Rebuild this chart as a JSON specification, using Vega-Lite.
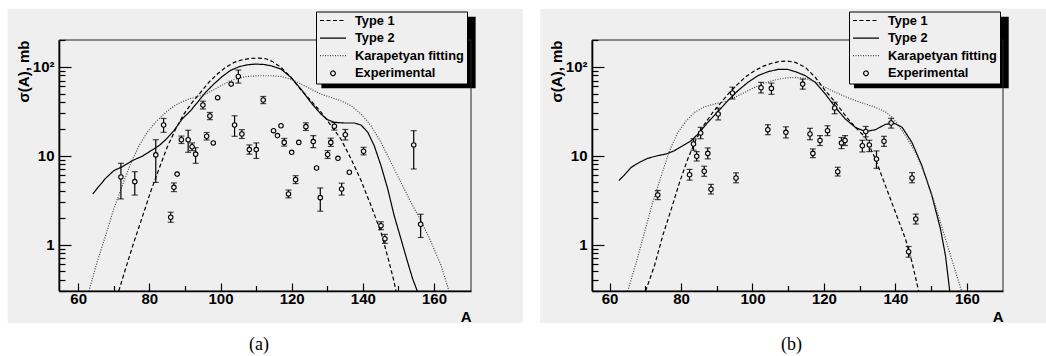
{
  "$schema": "https://vega.github.io/schema/vega-lite/v6.json",
  "background": "white",
  "padding": {"left": 7, "top": 8, "right": 0, "bottom": 0},
  "spacing": 17,
  "config": {
    "view": {"stroke": null},
    "font": "Liberation Sans"
  },
  "resolve": {
    "scale": {"x": "independent", "y": "independent", "strokeDash": "independent"},
    "legend": {"strokeDash": "independent"}
  },
  "datasets": {
    "curves_a": [
      {"A": 71.4, "v": 0.3, "series": "Type 1"}, {"A": 73.3, "v": 0.533, "series": "Type 1"}, {"A": 75.65, "v": 1.062, "series": "Type 1"}, {"A": 78.0, "v": 2.028, "series": "Type 1"}, {"A": 80.3, "v": 3.873, "series": "Type 1"}, {"A": 82.7, "v": 7.08, "series": "Type 1"}, {"A": 85.0, "v": 12.42, "series": "Type 1"}, {"A": 87.4, "v": 19.95, "series": "Type 1"}, {"A": 89.7, "v": 29.38, "series": "Type 1"}, {"A": 92.05, "v": 39.72, "series": "Type 1"}, {"A": 94.4, "v": 51.52, "series": "Type 1"}, {"A": 96.7, "v": 66.68, "series": "Type 1"}, {"A": 99.1, "v": 82.79, "series": "Type 1"}, {"A": 101.4, "v": 98.4, "series": "Type 1"}, {"A": 103.8, "v": 111.9, "series": "Type 1"}, {"A": 106.1, "v": 119.9, "series": "Type 1"}, {"A": 108.5, "v": 124.2, "series": "Type 1"}, {"A": 110.8, "v": 125.0, "series": "Type 1"}, {"A": 112.8, "v": 123, "series": "Type 1"}, {"A": 114.5, "v": 115, "series": "Type 1"}, {"A": 117.0, "v": 98.4, "series": "Type 1"}, {"A": 119.8, "v": 75.9, "series": "Type 1"}, {"A": 122.6, "v": 55, "series": "Type 1"}, {"A": 125.4, "v": 41.5, "series": "Type 1"}, {"A": 128.2, "v": 31, "series": "Type 1"}, {"A": 131.0, "v": 22, "series": "Type 1"}, {"A": 133.8, "v": 15.4, "series": "Type 1"}, {"A": 136.7, "v": 9.18, "series": "Type 1"}, {"A": 139.5, "v": 5.24, "series": "Type 1"}, {"A": 142.3, "v": 2.74, "series": "Type 1"}, {"A": 145.1, "v": 1.377, "series": "Type 1"}, {"A": 147.4, "v": 0.632, "series": "Type 1"}, {"A": 148.8, "v": 0.378, "series": "Type 1"}, {"A": 149.3, "v": 0.3, "series": "Type 1"},
      {"A": 64.1, "v": 3.71, "series": "Type 2"}, {"A": 65.6, "v": 4.41, "series": "Type 2"}, {"A": 67.7, "v": 5.56, "series": "Type 2"}, {"A": 70.0, "v": 6.78, "series": "Type 2"}, {"A": 72.4, "v": 7.52, "series": "Type 2"}, {"A": 75.2, "v": 8.79, "series": "Type 2"}, {"A": 78.0, "v": 9.84, "series": "Type 2"}, {"A": 80.8, "v": 11.59, "series": "Type 2"}, {"A": 82.7, "v": 12.94, "series": "Type 2"}, {"A": 84.6, "v": 15.14, "series": "Type 2"}, {"A": 86.9, "v": 19.1, "series": "Type 2"}, {"A": 89.2, "v": 25.82, "series": "Type 2"}, {"A": 91.6, "v": 32.06, "series": "Type 2"}, {"A": 93.9, "v": 41.5, "series": "Type 2"}, {"A": 95.8, "v": 51.52, "series": "Type 2"}, {"A": 98.1, "v": 63.83, "series": "Type 2"}, {"A": 100.5, "v": 77.8, "series": "Type 2"}, {"A": 102.8, "v": 91.0, "series": "Type 2"}, {"A": 105.2, "v": 100, "series": "Type 2"}, {"A": 107.5, "v": 105.2, "series": "Type 2"}, {"A": 109.9, "v": 107.2, "series": "Type 2"}, {"A": 112.2, "v": 106, "series": "Type 2"}, {"A": 114.2, "v": 102.6, "series": "Type 2"}, {"A": 117.0, "v": 94.2, "series": "Type 2"}, {"A": 119.8, "v": 75.9, "series": "Type 2"}, {"A": 122.6, "v": 56.1, "series": "Type 2"}, {"A": 125.4, "v": 39.7, "series": "Type 2"}, {"A": 128.2, "v": 29.4, "series": "Type 2"}, {"A": 130.1, "v": 25.35, "series": "Type 2"}, {"A": 132.0, "v": 23.7, "series": "Type 2"}, {"A": 134.8, "v": 23.3, "series": "Type 2"}, {"A": 137.6, "v": 23.3, "series": "Type 2"}, {"A": 139.5, "v": 22.1, "series": "Type 2"}, {"A": 141.4, "v": 18.3, "series": "Type 2"}, {"A": 143.2, "v": 12.94, "series": "Type 2"}, {"A": 145.1, "v": 7.73, "series": "Type 2"}, {"A": 147.0, "v": 4.22, "series": "Type 2"}, {"A": 148.8, "v": 2.12, "series": "Type 2"}, {"A": 150.7, "v": 1.16, "series": "Type 2"}, {"A": 152.6, "v": 0.632, "series": "Type 2"}, {"A": 154.0, "v": 0.411, "series": "Type 2"}, {"A": 155.3, "v": 0.3, "series": "Type 2"},
      {"A": 63.0, "v": 0.3, "series": "Karapetyan fitting"}, {"A": 65.3, "v": 0.632, "series": "Karapetyan fitting"}, {"A": 67.7, "v": 1.262, "series": "Karapetyan fitting"}, {"A": 70.0, "v": 2.518, "series": "Karapetyan fitting"}, {"A": 72.4, "v": 4.603, "series": "Karapetyan fitting"}, {"A": 74.7, "v": 8.054, "series": "Karapetyan fitting"}, {"A": 77.1, "v": 12.94, "series": "Karapetyan fitting"}, {"A": 79.4, "v": 18.28, "series": "Karapetyan fitting"}, {"A": 81.7, "v": 23.71, "series": "Karapetyan fitting"}, {"A": 84.1, "v": 29.38, "series": "Karapetyan fitting"}, {"A": 86.4, "v": 34.91, "series": "Karapetyan fitting"}, {"A": 88.8, "v": 39.72, "series": "Karapetyan fitting"}, {"A": 91.1, "v": 43.35, "series": "Karapetyan fitting"}, {"A": 93.5, "v": 46.03, "series": "Karapetyan fitting"}, {"A": 95.8, "v": 49.32, "series": "Karapetyan fitting"}, {"A": 98.1, "v": 55.21, "series": "Karapetyan fitting"}, {"A": 100.5, "v": 62.23, "series": "Karapetyan fitting"}, {"A": 102.8, "v": 69.66, "series": "Karapetyan fitting"}, {"A": 105.2, "v": 74.64, "series": "Karapetyan fitting"}, {"A": 107.5, "v": 77.8, "series": "Karapetyan fitting"}, {"A": 110.8, "v": 79.25, "series": "Karapetyan fitting"}, {"A": 114.2, "v": 79.25, "series": "Karapetyan fitting"}, {"A": 117.0, "v": 77.8, "series": "Karapetyan fitting"}, {"A": 119.8, "v": 72.61, "series": "Karapetyan fitting"}, {"A": 122.6, "v": 63.83, "series": "Karapetyan fitting"}, {"A": 125.4, "v": 56.1, "series": "Karapetyan fitting"}, {"A": 128.2, "v": 49.32, "series": "Karapetyan fitting"}, {"A": 131.0, "v": 45.19, "series": "Karapetyan fitting"}, {"A": 133.8, "v": 41.5, "series": "Karapetyan fitting"}, {"A": 136.7, "v": 36.48, "series": "Karapetyan fitting"}, {"A": 139.5, "v": 29.38, "series": "Karapetyan fitting"}, {"A": 142.3, "v": 21.73, "series": "Karapetyan fitting"}, {"A": 145.1, "v": 14.13, "series": "Karapetyan fitting"}, {"A": 147.9, "v": 8.41, "series": "Karapetyan fitting"}, {"A": 150.7, "v": 5.01, "series": "Karapetyan fitting"}, {"A": 153.5, "v": 2.99, "series": "Karapetyan fitting"}, {"A": 156.3, "v": 1.862, "series": "Karapetyan fitting"}, {"A": 159.2, "v": 1.062, "series": "Karapetyan fitting"}, {"A": 162.0, "v": 0.581, "series": "Karapetyan fitting"}, {"A": 164.2, "v": 0.3, "series": "Karapetyan fitting"}
    ],
    "curves_b": [
      {"A": 70.1, "v": 0.3, "series": "Type 1"}, {"A": 72.6, "v": 0.581, "series": "Type 1"}, {"A": 74.9, "v": 1.262, "series": "Type 1"}, {"A": 77.3, "v": 2.518, "series": "Type 1"}, {"A": 79.6, "v": 5.01, "series": "Type 1"}, {"A": 81.9, "v": 9.18, "series": "Type 1"}, {"A": 84.25, "v": 15.38, "series": "Type 1"}, {"A": 86.6, "v": 22.7, "series": "Type 1"}, {"A": 88.9, "v": 30.69, "series": "Type 1"}, {"A": 91.25, "v": 39.72, "series": "Type 1"}, {"A": 93.6, "v": 51.52, "series": "Type 1"}, {"A": 95.9, "v": 63.83, "series": "Type 1"}, {"A": 98.2, "v": 77.8, "series": "Type 1"}, {"A": 100.6, "v": 90.16, "series": "Type 1"}, {"A": 102.9, "v": 100.9, "series": "Type 1"}, {"A": 105.2, "v": 108.9, "series": "Type 1"}, {"A": 107.6, "v": 114.8, "series": "Type 1"}, {"A": 109.9, "v": 115.9, "series": "Type 1"}, {"A": 112.0, "v": 112, "series": "Type 1"}, {"A": 114.8, "v": 98.4, "series": "Type 1"}, {"A": 117.6, "v": 75.86, "series": "Type 1"}, {"A": 120.4, "v": 53.7, "series": "Type 1"}, {"A": 123.2, "v": 39.72, "series": "Type 1"}, {"A": 126.0, "v": 28.12, "series": "Type 1"}, {"A": 128.8, "v": 20.8, "series": "Type 1"}, {"A": 131.6, "v": 16.07, "series": "Type 1"}, {"A": 134.4, "v": 9.18, "series": "Type 1"}, {"A": 137.2, "v": 4.6, "series": "Type 1"}, {"A": 140.0, "v": 2.31, "series": "Type 1"}, {"A": 142.8, "v": 1.159, "series": "Type 1"}, {"A": 144.65, "v": 0.632, "series": "Type 1"}, {"A": 146.5, "v": 0.3, "series": "Type 1"},
      {"A": 62.6, "v": 5.24, "series": "Type 2"}, {"A": 64.2, "v": 6.07, "series": "Type 2"}, {"A": 66.1, "v": 7.4, "series": "Type 2"}, {"A": 68.4, "v": 8.41, "series": "Type 2"}, {"A": 70.7, "v": 9.33, "series": "Type 2"}, {"A": 73.5, "v": 10.0, "series": "Type 2"}, {"A": 75.9, "v": 10.45, "series": "Type 2"}, {"A": 78.2, "v": 11.38, "series": "Type 2"}, {"A": 80.5, "v": 12.94, "series": "Type 2"}, {"A": 82.9, "v": 14.76, "series": "Type 2"}, {"A": 85.2, "v": 18.28, "series": "Type 2"}, {"A": 87.5, "v": 23.71, "series": "Type 2"}, {"A": 90.3, "v": 31.19, "series": "Type 2"}, {"A": 93.1, "v": 41.5, "series": "Type 2"}, {"A": 95.9, "v": 53.7, "series": "Type 2"}, {"A": 98.7, "v": 66.68, "series": "Type 2"}, {"A": 101.5, "v": 79.25, "series": "Type 2"}, {"A": 104.3, "v": 87.9, "series": "Type 2"}, {"A": 107.1, "v": 93.33, "series": "Type 2"}, {"A": 109.9, "v": 93.33, "series": "Type 2"}, {"A": 112.0, "v": 88, "series": "Type 2"}, {"A": 114.8, "v": 79.25, "series": "Type 2"}, {"A": 117.6, "v": 66.68, "series": "Type 2"}, {"A": 120.4, "v": 49.32, "series": "Type 2"}, {"A": 123.2, "v": 34.91, "series": "Type 2"}, {"A": 126.0, "v": 25.82, "series": "Type 2"}, {"A": 128.8, "v": 20.8, "series": "Type 2"}, {"A": 131.6, "v": 18.62, "series": "Type 2"}, {"A": 134.4, "v": 19.59, "series": "Type 2"}, {"A": 137.2, "v": 22.49, "series": "Type 2"}, {"A": 139.5, "v": 23.28, "series": "Type 2"}, {"A": 141.9, "v": 20.8, "series": "Type 2"}, {"A": 144.6, "v": 14.13, "series": "Type 2"}, {"A": 147.4, "v": 7.73, "series": "Type 2"}, {"A": 150.2, "v": 3.56, "series": "Type 2"}, {"A": 152.6, "v": 1.5, "series": "Type 2"}, {"A": 154.0, "v": 0.752, "series": "Type 2"}, {"A": 155.2, "v": 0.3, "series": "Type 2"},
      {"A": 65.1, "v": 0.3, "series": "Karapetyan fitting"}, {"A": 67.5, "v": 0.632, "series": "Karapetyan fitting"}, {"A": 69.8, "v": 1.377, "series": "Karapetyan fitting"}, {"A": 72.1, "v": 2.992, "series": "Karapetyan fitting"}, {"A": 74.5, "v": 5.957, "series": "Karapetyan fitting"}, {"A": 76.8, "v": 11.38, "series": "Karapetyan fitting"}, {"A": 79.1, "v": 18.28, "series": "Karapetyan fitting"}, {"A": 81.5, "v": 24.72, "series": "Karapetyan fitting"}, {"A": 83.8, "v": 30.69, "series": "Karapetyan fitting"}, {"A": 86.6, "v": 35.56, "series": "Karapetyan fitting"}, {"A": 89.4, "v": 38.11, "series": "Karapetyan fitting"}, {"A": 92.2, "v": 40.46, "series": "Karapetyan fitting"}, {"A": 95.0, "v": 45.19, "series": "Karapetyan fitting"}, {"A": 97.8, "v": 51.52, "series": "Karapetyan fitting"}, {"A": 100.6, "v": 58.61, "series": "Karapetyan fitting"}, {"A": 103.4, "v": 65.46, "series": "Karapetyan fitting"}, {"A": 106.2, "v": 70.79, "series": "Karapetyan fitting"}, {"A": 109.0, "v": 74.64, "series": "Karapetyan fitting"}, {"A": 111.8, "v": 75.86, "series": "Karapetyan fitting"}, {"A": 114.8, "v": 73.96, "series": "Karapetyan fitting"}, {"A": 117.6, "v": 67.76, "series": "Karapetyan fitting"}, {"A": 120.4, "v": 58.61, "series": "Karapetyan fitting"}, {"A": 123.2, "v": 51.52, "series": "Karapetyan fitting"}, {"A": 126.0, "v": 46.03, "series": "Karapetyan fitting"}, {"A": 128.8, "v": 41.5, "series": "Karapetyan fitting"}, {"A": 131.6, "v": 38.11, "series": "Karapetyan fitting"}, {"A": 134.4, "v": 34.91, "series": "Karapetyan fitting"}, {"A": 137.2, "v": 31.19, "series": "Karapetyan fitting"}, {"A": 139.1, "v": 26.98, "series": "Karapetyan fitting"}, {"A": 140.9, "v": 21.73, "series": "Karapetyan fitting"}, {"A": 142.8, "v": 16.79, "series": "Karapetyan fitting"}, {"A": 145.6, "v": 10.89, "series": "Karapetyan fitting"}, {"A": 148.4, "v": 5.96, "series": "Karapetyan fitting"}, {"A": 151.2, "v": 2.74, "series": "Karapetyan fitting"}, {"A": 154.0, "v": 1.159, "series": "Karapetyan fitting"}, {"A": 156.3, "v": 0.581, "series": "Karapetyan fitting"}, {"A": 158.5, "v": 0.3, "series": "Karapetyan fitting"}
    ],
    "pts_a": [
      {"A": 72.0, "v": 5.76, "lo": 3.26, "hi": 8.2}, {"A": 75.9, "v": 5.1, "lo": 3.6, "hi": 6.6}, {"A": 81.8, "v": 10.2, "lo": 5.0, "hi": 15.1}, {"A": 84.0, "v": 22.1, "lo": 18.3, "hi": 26.2}, {"A": 86.0, "v": 2.03, "lo": 1.78, "hi": 2.31}, {"A": 86.9, "v": 4.4, "lo": 3.94, "hi": 4.93}, {"A": 87.8, "v": 6.2, "lo": null, "hi": null}, {"A": 89.0, "v": 15.1, "lo": 13.7, "hi": 16.6}, {"A": 90.9, "v": 15.1, "lo": 10.9, "hi": 19.3}, {"A": 92.0, "v": 12.6, "lo": 11.4, "hi": 13.9}, {"A": 93.0, "v": 10.4, "lo": 8.2, "hi": 12.3}, {"A": 95.05, "v": 37.1, "lo": 33.5, "hi": 41}, {"A": 96.1, "v": 16.5, "lo": 15, "hi": 18.2}, {"A": 97.0, "v": 27.9, "lo": 25.4, "hi": 30.6}, {"A": 97.96, "v": 13.9, "lo": null, "hi": null}, {"A": 99.2, "v": 44.9, "lo": null, "hi": null}, {"A": 103.0, "v": 63.8, "lo": null, "hi": null}, {"A": 103.95, "v": 22.1, "lo": 16.5, "hi": 28.1}, {"A": 105.0, "v": 77.8, "lo": 65.5, "hi": 91.8}, {"A": 106.0, "v": 17.5, "lo": 15.6, "hi": 19.6}, {"A": 108.1, "v": 11.7, "lo": 10.4, "hi": 13.2}, {"A": 110.05, "v": 11.7, "lo": 9.3, "hi": 13.9}, {"A": 112.0, "v": 42.2, "lo": 38.5, "hi": 46.3}, {"A": 114.9, "v": 19.1, "lo": null, "hi": null}, {"A": 116.0, "v": 16.8, "lo": null, "hi": null}, {"A": 117.0, "v": 21.7, "lo": null, "hi": null}, {"A": 117.9, "v": 14.1, "lo": 12.8, "hi": 15.6}, {"A": 119.1, "v": 3.71, "lo": 3.35, "hi": 4.1}, {"A": 120.0, "v": 10.9, "lo": null, "hi": null}, {"A": 121.1, "v": 5.37, "lo": 4.85, "hi": 5.95}, {"A": 122.0, "v": 14.1, "lo": null, "hi": null}, {"A": 124.0, "v": 21.2, "lo": 19.2, "hi": 23.4}, {"A": 126.07, "v": 14.4, "lo": 12.3, "hi": 16.8}, {"A": 127.0, "v": 7.26, "lo": null, "hi": null}, {"A": 128.04, "v": 3.37, "lo": 2.37, "hi": 4.33}, {"A": 130.1, "v": 10.3, "lo": 9.3, "hi": 11.4}, {"A": 131.0, "v": 14.1, "lo": 12.7, "hi": 15.7}, {"A": 132.0, "v": 21.4, "lo": 19.4, "hi": 23.6}, {"A": 133.0, "v": 9.33, "lo": null, "hi": null}, {"A": 134.04, "v": 4.22, "lo": 3.6, "hi": 4.9}, {"A": 135.07, "v": 17.2, "lo": 15, "hi": 19.7}, {"A": 136.2, "v": 6.5, "lo": null, "hi": null}, {"A": 140.2, "v": 11.2, "lo": 10.2, "hi": 12.4}, {"A": 145.1, "v": 1.63, "lo": 1.47, "hi": 1.8}, {"A": 146.2, "v": 1.16, "lo": 1.03, "hi": 1.3}, {"A": 154.3, "v": 13.2, "lo": 7.08, "hi": 19.1}, {"A": 156.25, "v": 1.69, "lo": 1.2, "hi": 2.19}
    ],
    "pts_b": [
      {"A": 73.5, "v": 3.61, "lo": 3.2, "hi": 4.05}, {"A": 82.4, "v": 6.1, "lo": 5.3, "hi": 7.0}, {"A": 83.5, "v": 13.5, "lo": 11.5, "hi": 15.5}, {"A": 84.4, "v": 9.84, "lo": 8.7, "hi": 11.1}, {"A": 85.5, "v": 18.0, "lo": 15.5, "hi": 20.8}, {"A": 86.5, "v": 6.67, "lo": 5.85, "hi": 7.6}, {"A": 87.5, "v": 10.6, "lo": 9.2, "hi": 12.2}, {"A": 88.4, "v": 4.19, "lo": 3.7, "hi": 4.75}, {"A": 90.4, "v": 29.4, "lo": 25.2, "hi": 34.2}, {"A": 94.4, "v": 50.6, "lo": 43.4, "hi": 58.9}, {"A": 95.4, "v": 5.61, "lo": 4.95, "hi": 6.4}, {"A": 102.4, "v": 58.1, "lo": 50.7, "hi": 66.7}, {"A": 104.3, "v": 19.6, "lo": 17.2, "hi": 22.3}, {"A": 105.3, "v": 57.1, "lo": 48.9, "hi": 65.5}, {"A": 109.35, "v": 18.3, "lo": 15.8, "hi": 21.1}, {"A": 114.05, "v": 63.8, "lo": 56, "hi": 72.6}, {"A": 116.1, "v": 17.5, "lo": 15.1, "hi": 20.3}, {"A": 116.9, "v": 10.6, "lo": 9.5, "hi": 11.9}, {"A": 118.9, "v": 14.8, "lo": 13, "hi": 16.8}, {"A": 121.0, "v": 19.1, "lo": 16.8, "hi": 21.7}, {"A": 123.0, "v": 34.4, "lo": 29.6, "hi": 39.9}, {"A": 123.85, "v": 6.6, "lo": 5.9, "hi": 7.4}, {"A": 124.9, "v": 13.9, "lo": 12, "hi": 16}, {"A": 125.9, "v": 14.8, "lo": 13, "hi": 16.8}, {"A": 130.75, "v": 12.9, "lo": 11, "hi": 14.9}, {"A": 131.7, "v": 18.7, "lo": 16.3, "hi": 21.3}, {"A": 132.7, "v": 13.2, "lo": 11.1, "hi": 14.9}, {"A": 134.7, "v": 9.18, "lo": 7.2, "hi": 11.3}, {"A": 136.8, "v": 14.5, "lo": 12.7, "hi": 16.5}, {"A": 138.8, "v": 23.3, "lo": 20.4, "hi": 26.3}, {"A": 143.7, "v": 0.83, "lo": 0.72, "hi": 0.95}, {"A": 144.65, "v": 5.61, "lo": 4.95, "hi": 6.45}, {"A": 145.7, "v": 1.94, "lo": 1.7, "hi": 2.2}
    ]
  },
  "hconcat": [
    {
      "width": 412,
      "height": 251,
      "title": {"text": "(a)", "orient": "bottom", "font": "Liberation Serif", "fontSize": 18, "fontWeight": "normal", "color": "black", "offset": 11, "dx": -6},
      "layer": [
        {
          "data": {"values": [{}]},
          "mark": {"type": "rect", "fill": "#efefef", "clip": false},
          "encoding": {
            "x": {"datum": 40.18, "type": "quantitative", "scale": {"domain": [54.6, 170.4], "nice": false, "zero": false}},
            "x2": {"datum": 185.0},
            "y": {"datum": 450, "type": "quantitative", "scale": {"type": "log", "domain": [0.3, 200], "nice": false}},
            "y2": {"datum": 0.131}
          }
        },
        {
          "data": {"values": [{}]},
          "mark": {"type": "rect", "fill": "black", "clip": false},
          "encoding": {
            "x": {"datum": 128.35, "type": "quantitative", "scale": {"domain": [54.6, 170.4], "nice": false, "zero": false}},
            "x2": {"datum": 171.7},
            "y": {"datum": 365.6, "type": "quantitative", "scale": {"type": "log", "domain": [0.3, 200], "nice": false}},
            "y2": {"datum": 57.2}
          }
        },
        {
          "data": {"values": [{}]},
          "mark": {"type": "rect", "fill": "transparent", "stroke": "#222", "strokeWidth": 1, "clip": false},
          "encoding": {
            "x": {"datum": 54.6, "type": "quantitative", "scale": {"domain": [54.6, 170.4], "nice": false, "zero": false}},
            "x2": {"datum": 170.4},
            "y": {"datum": 0.3, "type": "quantitative", "scale": {"type": "log", "domain": [0.3, 200], "nice": false}},
            "y2": {"datum": 200}
          }
        },
        {
          "data": {"name": "curves_a"},
          "mark": {"type": "line", "strokeWidth": 1.2, "clip": true},
          "encoding": {
            "x": {"field": "A", "type": "quantitative", "scale": {"domain": [54.6, 170.4], "nice": false, "zero": false},
              "axis": {"title": "A", "titleAnchor": "end", "titleFont": "Liberation Sans", "titleFontWeight": "bold", "titleFontSize": 15, "titleColor": "black", "titlePadding": 1,
                "values": [60, 65, 70, 75, 80, 85, 90, 95, 100, 105, 110, 115, 120, 125, 130, 135, 140, 145, 150, 155, 160, 165],
                "labelExpr": "datum.value % 20 == 0 ? datum.label : ''",
                "tickSize": {"condition": [{"test": "datum.value % 20 == 0", "value": -8}, {"test": "datum.value % 10 == 0", "value": -5.5}], "value": -3.5},
                "tickColor": "black", "tickWidth": 1.2, "domainColor": "black", "domainWidth": 1.6,
                "labelFont": "Liberation Sans", "labelFontWeight": "bold", "labelFontSize": 15, "labelColor": "black", "labelPadding": 8,
                "labelOverlap": false, "labelFlush": false, "labelBound": false, "grid": false, "zindex": 1}},
            "y": {"field": "v", "type": "quantitative", "scale": {"type": "log", "domain": [0.3, 200], "nice": false},
              "axis": {"title": "σ(A), mb", "titleAnchor": "end", "titleFont": "Liberation Sans", "titleFontWeight": "bold", "titleFontSize": 15, "titleColor": "black", "titlePadding": 1,
                "values": [0.3, 0.4, 0.5, 0.6, 0.7, 0.8, 0.9, 1, 2, 3, 4, 5, 6, 7, 8, 9, 10, 20, 30, 40, 50, 60, 70, 80, 90, 100, 200],
                "labelExpr": "datum.value == 100 ? '10²' : datum.value == 10 ? '10' : datum.value == 1 ? '1' : ''",
                "tickSize": {"condition": {"test": "datum.value == 1 || datum.value == 10 || datum.value == 100", "value": -12}, "value": -6},
                "tickColor": "black", "tickWidth": 1.2, "domainColor": "black", "domainWidth": 1.6,
                "labelFont": "Liberation Sans", "labelFontWeight": "bold", "labelFontSize": 15, "labelColor": "black", "labelPadding": 17,
                "labelOverlap": false, "labelFlush": false, "labelBound": false, "grid": false, "zindex": 1}},
            "strokeDash": {"field": "series", "type": "nominal",
              "scale": {"domain": ["Type 1", "Type 2", "Karapetyan fitting", "Experimental"], "range": [[4, 2.5], [1, 0], [1, 1.5], [1, 0]]},
              "legend": {"title": null, "orient": "none", "legendX": 257, "legendY": -28.5, "zindex": 2,
                "fillColor": "#efefef", "strokeColor": "black", "padding": 3,
                "symbolSize": 676, "symbolType": "stroke", "symbolStrokeWidth": 1.2, "symbolStrokeColor": "black",
                "clipHeight": 12, "rowPadding": 4.6,
                "labelFont": "Liberation Sans", "labelFontWeight": "bold", "labelFontSize": 12.8, "labelColor": "black", "labelOffset": 8, "labelLimit": 300,
                "encode": {"symbols": {"update": {
                  "shape": {"signal": "datum.value === 'Experimental' ? 'M-0.18,0A0.18,0.18,0,1,0,0.18,0A0.18,0.18,0,1,0,-0.18,0Z' : 'stroke'"},
                  "stroke": {"signal": "datum.value === 'Karapetyan fitting' ? '#444' : 'black'"},
                  "fill": {"value": "transparent"}
                }}}}},
            "stroke": {"condition": {"test": "datum.series === 'Karapetyan fitting'", "value": "#444"}, "value": "black"}
          }
        },
        {
          "data": {"name": "pts_a"},
          "mark": {"type": "rule", "color": "black", "strokeWidth": 1.2},
          "encoding": {
            "x": {"field": "A", "type": "quantitative", "scale": {"domain": [54.6, 170.4], "nice": false, "zero": false}},
            "y": {"field": "lo", "type": "quantitative", "scale": {"type": "log", "domain": [0.3, 200], "nice": false}},
            "y2": {"field": "hi"}
          }
        },
        {
          "data": {"name": "pts_a"},
          "mark": {"type": "tick", "orient": "horizontal", "size": 6, "thickness": 1.2, "color": "black"},
          "encoding": {
            "x": {"field": "A", "type": "quantitative", "scale": {"domain": [54.6, 170.4], "nice": false, "zero": false}},
            "y": {"field": "lo", "type": "quantitative", "scale": {"type": "log", "domain": [0.3, 200], "nice": false}}
          }
        },
        {
          "data": {"name": "pts_a"},
          "mark": {"type": "tick", "orient": "horizontal", "size": 6, "thickness": 1.2, "color": "black"},
          "encoding": {
            "x": {"field": "A", "type": "quantitative", "scale": {"domain": [54.6, 170.4], "nice": false, "zero": false}},
            "y": {"field": "hi", "type": "quantitative", "scale": {"type": "log", "domain": [0.3, 200], "nice": false}}
          }
        },
        {
          "data": {"name": "pts_a"},
          "mark": {"type": "point", "shape": "circle", "filled": true, "fill": "#efefef", "stroke": "black", "strokeWidth": 1.1, "size": 20, "opacity": 1},
          "encoding": {
            "x": {"field": "A", "type": "quantitative", "scale": {"domain": [54.6, 170.4], "nice": false, "zero": false}},
            "y": {"field": "v", "type": "quantitative", "scale": {"type": "log", "domain": [0.3, 200], "nice": false}}
          }
        }
      ]
    },
    {
      "width": 411,
      "height": 251,
      "title": {"text": "(b)", "orient": "bottom", "font": "Liberation Serif", "fontSize": 18, "fontWeight": "normal", "color": "black", "offset": 11, "dx": -6},
      "layer": [
        {
          "data": {"values": [{}]},
          "mark": {"type": "rect", "fill": "#efefef", "clip": false},
          "encoding": {
            "x": {"datum": 40.63, "type": "quantitative", "scale": {"domain": [55.1, 170.1], "nice": false, "zero": false}},
            "x2": {"datum": 182.5},
            "y": {"datum": 450, "type": "quantitative", "scale": {"type": "log", "domain": [0.3, 200], "nice": false}},
            "y2": {"datum": 0.131}
          }
        },
        {
          "data": {"values": [{}]},
          "mark": {"type": "rect", "fill": "black", "clip": false},
          "encoding": {
            "x": {"datum": 128.4, "type": "quantitative", "scale": {"domain": [55.1, 170.1], "nice": false, "zero": false}},
            "x2": {"datum": 171.7},
            "y": {"datum": 365.6, "type": "quantitative", "scale": {"type": "log", "domain": [0.3, 200], "nice": false}},
            "y2": {"datum": 57.2}
          }
        },
        {
          "data": {"values": [{}]},
          "mark": {"type": "rect", "fill": "transparent", "stroke": "#222", "strokeWidth": 1, "clip": false},
          "encoding": {
            "x": {"datum": 55.1, "type": "quantitative", "scale": {"domain": [55.1, 170.1], "nice": false, "zero": false}},
            "x2": {"datum": 170.1},
            "y": {"datum": 0.3, "type": "quantitative", "scale": {"type": "log", "domain": [0.3, 200], "nice": false}},
            "y2": {"datum": 200}
          }
        },
        {
          "data": {"name": "curves_b"},
          "mark": {"type": "line", "strokeWidth": 1.2, "clip": true},
          "encoding": {
            "x": {"field": "A", "type": "quantitative", "scale": {"domain": [55.1, 170.1], "nice": false, "zero": false},
              "axis": {"title": "A", "titleAnchor": "end", "titleFont": "Liberation Sans", "titleFontWeight": "bold", "titleFontSize": 15, "titleColor": "black", "titlePadding": 1,
                "values": [60, 65, 70, 75, 80, 85, 90, 95, 100, 105, 110, 115, 120, 125, 130, 135, 140, 145, 150, 155, 160, 165],
                "labelExpr": "datum.value % 20 == 0 ? datum.label : ''",
                "tickSize": {"condition": [{"test": "datum.value % 20 == 0", "value": -8}, {"test": "datum.value % 10 == 0", "value": -5.5}], "value": -3.5},
                "tickColor": "black", "tickWidth": 1.2, "domainColor": "black", "domainWidth": 1.6,
                "labelFont": "Liberation Sans", "labelFontWeight": "bold", "labelFontSize": 15, "labelColor": "black", "labelPadding": 8,
                "labelOverlap": false, "labelFlush": false, "labelBound": false, "grid": false, "zindex": 1}},
            "y": {"field": "v", "type": "quantitative", "scale": {"type": "log", "domain": [0.3, 200], "nice": false},
              "axis": {"title": "σ(A), mb", "titleAnchor": "end", "titleFont": "Liberation Sans", "titleFontWeight": "bold", "titleFontSize": 15, "titleColor": "black", "titlePadding": 1,
                "values": [0.3, 0.4, 0.5, 0.6, 0.7, 0.8, 0.9, 1, 2, 3, 4, 5, 6, 7, 8, 9, 10, 20, 30, 40, 50, 60, 70, 80, 90, 100, 200],
                "labelExpr": "datum.value == 100 ? '10²' : datum.value == 10 ? '10' : datum.value == 1 ? '1' : ''",
                "tickSize": {"condition": {"test": "datum.value == 1 || datum.value == 10 || datum.value == 100", "value": -12}, "value": -6},
                "tickColor": "black", "tickWidth": 1.2, "domainColor": "black", "domainWidth": 1.6,
                "labelFont": "Liberation Sans", "labelFontWeight": "bold", "labelFontSize": 15, "labelColor": "black", "labelPadding": 17,
                "labelOverlap": false, "labelFlush": false, "labelBound": false, "grid": false, "zindex": 1}},
            "strokeDash": {"field": "series", "type": "nominal",
              "scale": {"domain": ["Type 1", "Type 2", "Karapetyan fitting", "Experimental"], "range": [[4, 2.5], [1, 0], [1, 1.5], [1, 0]]},
              "legend": {"title": null, "orient": "none", "legendX": 257, "legendY": -28.5, "zindex": 2,
                "fillColor": "#efefef", "strokeColor": "black", "padding": 3,
                "symbolSize": 676, "symbolType": "stroke", "symbolStrokeWidth": 1.2, "symbolStrokeColor": "black",
                "clipHeight": 12, "rowPadding": 4.6,
                "labelFont": "Liberation Sans", "labelFontWeight": "bold", "labelFontSize": 12.8, "labelColor": "black", "labelOffset": 8, "labelLimit": 300,
                "encode": {"symbols": {"update": {
                  "shape": {"signal": "datum.value === 'Experimental' ? 'M-0.18,0A0.18,0.18,0,1,0,0.18,0A0.18,0.18,0,1,0,-0.18,0Z' : 'stroke'"},
                  "stroke": {"signal": "datum.value === 'Karapetyan fitting' ? '#444' : 'black'"},
                  "fill": {"value": "transparent"}
                }}}}},
            "stroke": {"condition": {"test": "datum.series === 'Karapetyan fitting'", "value": "#444"}, "value": "black"}
          }
        },
        {
          "data": {"name": "pts_b"},
          "mark": {"type": "rule", "color": "black", "strokeWidth": 1.2},
          "encoding": {
            "x": {"field": "A", "type": "quantitative", "scale": {"domain": [55.1, 170.1], "nice": false, "zero": false}},
            "y": {"field": "lo", "type": "quantitative", "scale": {"type": "log", "domain": [0.3, 200], "nice": false}},
            "y2": {"field": "hi"}
          }
        },
        {
          "data": {"name": "pts_b"},
          "mark": {"type": "tick", "orient": "horizontal", "size": 6, "thickness": 1.2, "color": "black"},
          "encoding": {
            "x": {"field": "A", "type": "quantitative", "scale": {"domain": [55.1, 170.1], "nice": false, "zero": false}},
            "y": {"field": "lo", "type": "quantitative", "scale": {"type": "log", "domain": [0.3, 200], "nice": false}}
          }
        },
        {
          "data": {"name": "pts_b"},
          "mark": {"type": "tick", "orient": "horizontal", "size": 6, "thickness": 1.2, "color": "black"},
          "encoding": {
            "x": {"field": "A", "type": "quantitative", "scale": {"domain": [55.1, 170.1], "nice": false, "zero": false}},
            "y": {"field": "hi", "type": "quantitative", "scale": {"type": "log", "domain": [0.3, 200], "nice": false}}
          }
        },
        {
          "data": {"name": "pts_b"},
          "mark": {"type": "point", "shape": "circle", "filled": true, "fill": "#efefef", "stroke": "black", "strokeWidth": 1.1, "size": 20, "opacity": 1},
          "encoding": {
            "x": {"field": "A", "type": "quantitative", "scale": {"domain": [55.1, 170.1], "nice": false, "zero": false}},
            "y": {"field": "v", "type": "quantitative", "scale": {"type": "log", "domain": [0.3, 200], "nice": false}}
          }
        }
      ]
    }
  ]
}
